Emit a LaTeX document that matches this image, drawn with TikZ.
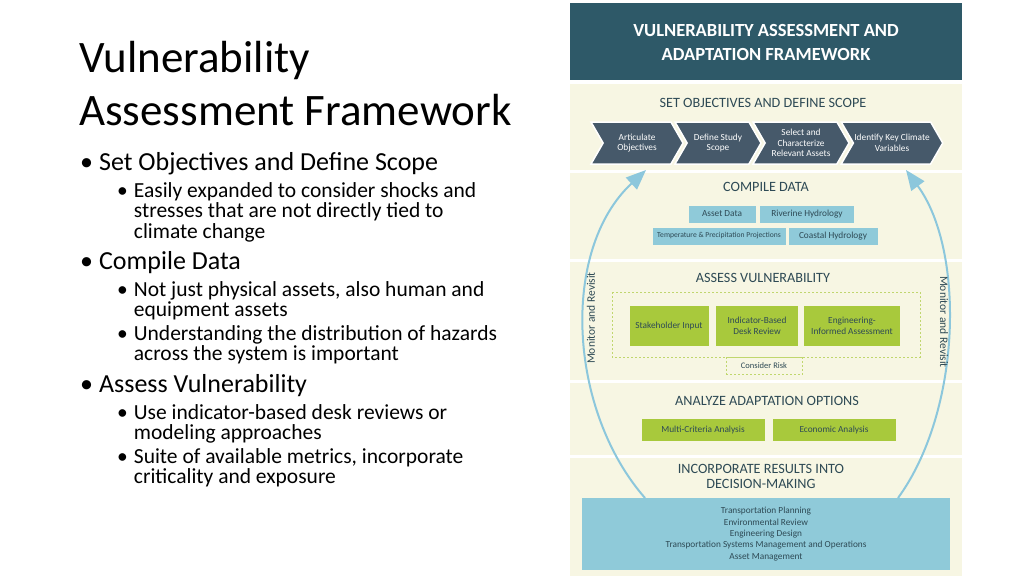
\documentclass[tikz,border=0pt]{standalone}
\usepackage{fontspec}
\setmainfont{Carlito}
\usetikzlibrary{shapes.symbols,arrows.meta,positioning}
\definecolor{hdr}{HTML}{2E5968}
\definecolor{cream}{HTML}{F7F6E3}
\definecolor{slate}{HTML}{46596A}
\definecolor{ltblue}{HTML}{8FCAD9}
\definecolor{lime}{HTML}{A8C93C}
\definecolor{arc}{HTML}{8CC7DC}
\definecolor{ink}{HTML}{2E4A55}
\tikzset{
  chev/.style={signal,signal from=west,signal to=east,signal pointer angle=120,fill=slate,draw=white,line width=1.5pt,
    text=white,align=center,font=\fontsize{9.3}{10.5}\selectfont,minimum height=42pt,inner sep=1pt},
  databox/.style={fill=ltblue,text=ink,font=\fontsize{9.3}{10}\selectfont,inner sep=0pt,minimum height=17pt},
  greenbox/.style={fill=lime,text=ink,align=center,font=\fontsize{9.3}{10.5}\selectfont,inner sep=0pt},
  band/.style={fill=cream,draw=none},
  bandtitle/.style={text=ink,font=\fontsize{14.2}{15}\selectfont,align=center},
  bul/.style={anchor=north west,font=\fontsize{26}{27}\selectfont,inner sep=0pt},
  subbul/.style={anchor=north west,font=\fontsize{21.5}{20.5}\selectfont,inner sep=0pt,align=left}
}
\begin{document}
\begin{tikzpicture}[x=1pt,y=-1pt]
\useasboundingbox (0,0) rectangle (1024,576);
% left column
\node[anchor=west,font=\fontsize{45}{46}\selectfont,inner sep=0pt] (t1) at (79,60) {Vulnerability};
\node[anchor=west,font=\fontsize{45}{46}\selectfont,inner sep=0pt] (t2) at (79,110) {Assessment Framework};
\node[bul] (b1) at (80,152) {•\hspace{6pt}Set Objectives and Define Scope};
\node[subbul] (s1) at (117,182) {•\hspace{6pt}\parbox[t]{380pt}{Easily expanded to consider shocks and\\stresses that are not directly tied to\\climate change}};
\node[bul] (b2) at (80,251) {•\hspace{6pt}Compile Data};
\node[subbul] (s2) at (117,281) {•\hspace{6pt}\parbox[t]{380pt}{Not just physical assets, also human and\\equipment assets}};
\node[subbul] (s3) at (117,325) {•\hspace{6pt}\parbox[t]{380pt}{Understanding the distribution of hazards\\across the system is important}};
\node[bul] (b3) at (80,374) {•\hspace{6pt}Assess Vulnerability};
\node[subbul] (s4) at (117,404) {•\hspace{6pt}\parbox[t]{380pt}{Use indicator-based desk reviews or\\modeling approaches}};
\node[subbul] (s5) at (117,448) {•\hspace{6pt}\parbox[t]{380pt}{Suite of available metrics, incorporate\\criticality and exposure}};
% right panel
\fill[hdr] (570,3) rectangle (962,80);
\node[text=white,font=\fontsize{18.5}{24}\selectfont\bfseries,align=center] (hd) at (766,42) {VULNERABILITY ASSESSMENT AND\\ADAPTATION FRAMEWORK};
\fill[band] (570,84) rectangle (962,170);
\fill[band] (570,173) rectangle (962,259);
\fill[band] (570,262) rectangle (962,380);
\fill[band] (570,383) rectangle (962,455);
\fill[band] (570,458) rectangle (962,576);
% set objectives
\node[bandtitle] (so) at (763,103) {SET OBJECTIVES AND DEFINE SCOPE};
\node[chev,minimum width=92pt] (c1) at (637,143) {Articulate\\Objectives};
\node[chev,minimum width=86pt] (c2) at (718,143) {Define Study\\Scope};
\node[chev,minimum width=96pt] (c3) at (801,143) {Select and\\Characterize\\Relevant Assets};
\node[chev,minimum width=100pt] (c4) at (892,143) {Identify Key Climate\\Variables};
% compile data
\node[bandtitle] (cd) at (766,187) {COMPILE DATA};
\node[databox,minimum width=67pt] (ad) at (722,214) {Asset Data};
\node[databox,minimum width=94pt] (rh) at (807,214) {Riverine Hydrology};
\node[databox,minimum width=133pt,font=\fontsize{7.6}{9}\selectfont] (tp) at (719,236) {Temperature \& Precipitation Projections};
\node[databox,minimum width=89pt] (ch) at (833,236) {Coastal Hydrology};
% assess vulnerability
\node[bandtitle] (av) at (763,278) {ASSESS VULNERABILITY};
\draw[lime!70!cream,dashed,dash pattern=on 2pt off 2pt] (612,292) rectangle (920,357);
\node[greenbox,minimum width=79pt,minimum height=40pt] (sh) at (669,326) {Stakeholder Input};
\node[greenbox,minimum width=82pt,minimum height=40pt] (ib) at (757,326) {Indicator-Based\\Desk Review};
\node[greenbox,minimum width=96pt,minimum height=40pt] (ei) at (852,326) {Engineering-\\Informed Assessment};
\node[draw=lime!70!cream,dashed,dash pattern=on 2pt off 2pt,fill=cream,text=ink,font=\fontsize{8.5}{9}\selectfont,minimum width=76pt,minimum height=17pt,inner sep=0pt] (cr) at (764,366) {Consider Risk};
% analyze
\node[bandtitle] (aa) at (767,401) {ANALYZE ADAPTATION OPTIONS};
\node[greenbox,minimum width=123pt,minimum height=22pt] (mc) at (703,430) {Multi-Criteria Analysis};
\node[greenbox,minimum width=123pt,minimum height=22pt] (ea) at (834,430) {Economic Analysis};
% incorporate
\node[bandtitle] (ir) at (761,476) {INCORPORATE RESULTS INTO\\DECISION-MAKING};
\node[fill=ltblue,text=ink,align=center,font=\fontsize{9.3}{11.3}\selectfont,minimum width=368pt,minimum height=72pt,inner sep=0pt] (dm) at (766,534) {Transportation Planning\\Environmental Review\\Engineering Design\\Transportation Systems Management and Operations\\Asset Management};
% monitor loop
\coordinate (la) at (646,170);
\coordinate (ra) at (906,170);
\coordinate (lb) at (645,498);
\coordinate (rb) at (898,498);
\draw[arc,line width=2pt,-{Triangle[width=16pt,length=20pt]}] (lb)
  .. controls (568,410) and (560,250) .. (la);
\draw[arc,line width=2pt,-{Triangle[width=16pt,length=20pt]}] (rb)
  .. controls (962,410) and (965,250) .. (ra);
\node[rotate=90,text=ink,font=\fontsize{11.5}{12}\selectfont] (ml) at (591,318) {Monitor and Revisit};
\node[rotate=-90,text=ink,font=\fontsize{11.5}{12}\selectfont] (mr) at (944,322) {Monitor and Revisit};
\end{tikzpicture}
\end{document}
